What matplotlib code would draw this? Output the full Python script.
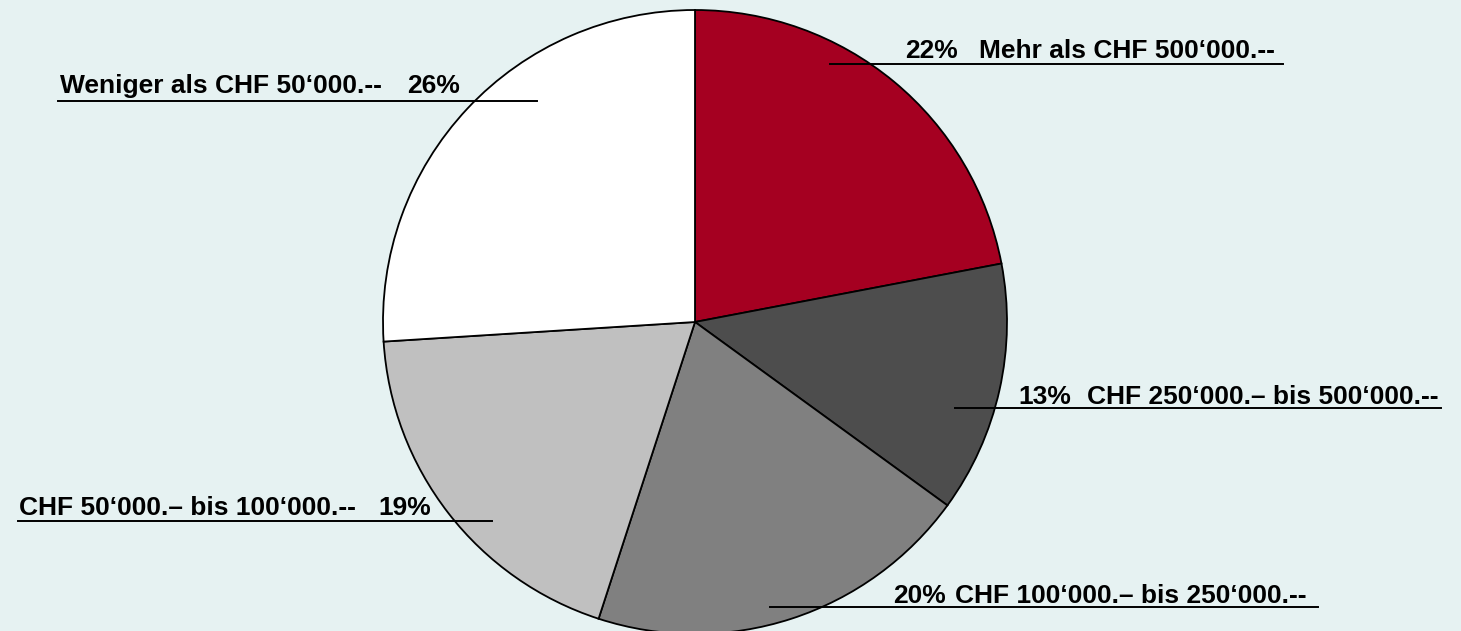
import matplotlib
matplotlib.use("Agg")
import matplotlib.pyplot as plt

labels = ["Mehr als CHF 500‘000.--",
          "CHF 250‘000.– bis 500‘000.--",
          "CHF 100‘000.– bis 250‘000.--",
          "CHF 50‘000.– bis 100‘000.--",
          "Weniger als CHF 50‘000.--"]
values = [22, 13, 20, 19, 26]
colors = ["#A50021", "#4D4D4D", "#808080", "#C0C0C0", "#FFFFFF"]

W, H = 1461, 631
bg = "#E6F2F2"
fig = plt.figure(figsize=(W / 100, H / 100), dpi=100, facecolor=bg)
ax = fig.add_axes([0, 0, 1, 1])
ax.set_facecolor(bg)

cx, cy, r = 695, 322, 312
ax.pie(values, colors=colors, startangle=90, counterclock=False,
       center=(cx, H - cy), radius=r, frame=True,
       wedgeprops=dict(edgecolor="black", linewidth=1.3))
ax.set_xlim(0, W)
ax.set_ylim(0, H)
ax.set_aspect("equal")
ax.axis("off")

# annotation layout (pixel coords from top): pct x, label x, baseline y, line x0, line x1, line y
layout = [
    (905, 979, 58, 830, 1283, 64),
    (1018, 1087, 404, 955, 1441, 408),
    (893, 955, 603, 770, 1318, 607),
    (378, 19, 515, 18, 492, 521),
    (407, 60, 93, 58, 537, 101),
]
fs = 19
for lab, val, (px, lx, by, x0, x1, ly) in zip(labels, values, layout):
    ax.text(px, H - by, f"{val}%", fontsize=fs, fontweight="bold",
            family="Liberation Sans", ha="left", va="baseline", color="black")
    ax.text(lx, H - by, lab, fontsize=fs, fontweight="bold",
            family="Liberation Sans", ha="left", va="baseline", color="black")
    ax.plot([x0, x1], [H - ly, H - ly], color="black", lw=1.4, zorder=5)

fig.savefig("out.png", dpi=100, facecolor=bg)
